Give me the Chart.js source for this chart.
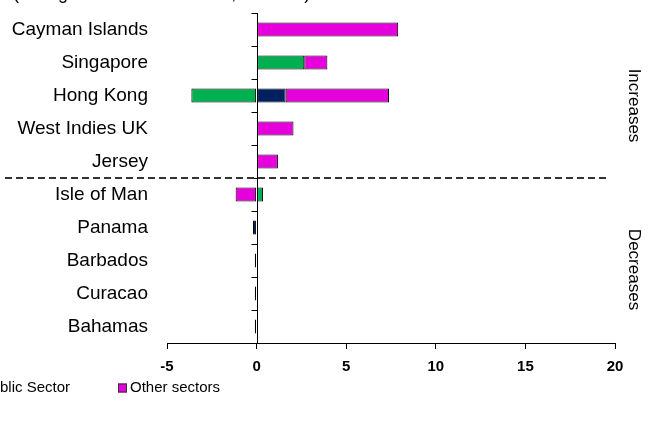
<!DOCTYPE html>
<html><head><meta charset="utf-8">
<script src="https://cdn.jsdelivr.net/npm/chart.js@4"></script>
<style>html,body{margin:0;padding:0;background:#fff;}#wrap{width:655px;height:421px;position:relative;overflow:hidden;}</style>
</head><body><div id="wrap"><canvas id="c" width="655" height="421"></canvas></div>
<script>
const categories = ["Cayman Islands","Singapore","Hong Kong","West Indies UK","Jersey","Isle of Man","Panama","Barbados","Curacao","Bahamas"];
const banks        = [null, 2.66, -3.64, null, null, 0.36, null, null, null, null];
const publicSector = [null, null, 1.62, null, null, null, -0.2, -0.1, -0.1, -0.1];
const otherSectors = [7.9, 1.29, 5.77, 2.06, 1.19, -1.17, null, null, null, null];
const xTicks = [-5, 0, 5, 10, 15, 20];
const seriesNames = ["Banks", "Public Sector", "Other sectors"];
const seriesColors = ["#00B050", "#002060", "#E600DC"];
const groupLabels = ["Increases", "Decreases"];
const titleText = "(change in the total amount, USD bn)";

const FONT = "'Liberation Sans', Arial, sans-serif";

const overlay = {
  id: 'overlay',
  afterDatasetsDraw(chart) {
    const ctx = chart.ctx, xs = chart.scales.x, ys = chart.scales.y, ca = chart.chartArea;
    ctx.save();
    // zero axis line
    const x0 = Math.round(xs.getPixelForValue(0)) + 0.5;
    ctx.strokeStyle = '#000'; ctx.lineWidth = 1;
    ctx.beginPath(); ctx.moveTo(x0, ca.top); ctx.lineTo(x0, ca.bottom); ctx.stroke();
    // category boundary ticks
    for (let i = 0; i <= categories.length; i++) {
      const y = Math.round(ys.getPixelForValue(i - 0.5)) + 0.5;
      ctx.beginPath(); ctx.moveTo(x0 - 6, y); ctx.lineTo(x0, y); ctx.stroke();
    }
    // dashed divider between increases and decreases
    const yd = Math.round(ys.getPixelForValue(4.5));
    ctx.strokeStyle = '#333'; ctx.lineWidth = 2; ctx.setLineDash([7, 4]);
    ctx.beginPath(); ctx.moveTo(5, yd); ctx.lineTo(ca.right - 5, yd); ctx.stroke();
    ctx.setLineDash([]);
    // group labels (rotated)
    ctx.fillStyle = '#000'; ctx.font = "17px " + FONT;
    ctx.textAlign = 'center'; ctx.textBaseline = 'middle';
    const centers = [(ca.top + yd) / 2 + 10, (yd + ca.bottom) / 2 + 9];
    groupLabels.forEach((t, i) => {
      ctx.save(); ctx.translate(ca.right + 19, centers[i]); ctx.rotate(Math.PI / 2);
      ctx.fillText(t, 0, 0); ctx.restore();
    });
    // title (mostly cropped at top)
    ctx.textAlign = 'left'; ctx.textBaseline = 'alphabetic'; ctx.font = "18px " + FONT;
    ctx.fillText(titleText, 13, -1);
    // legend (left part cropped)
    ctx.font = "15px " + FONT; ctx.textBaseline = 'middle';
    const anchor = 118, ly = 388, box = 9, gapText = 3, gapItem = 48;
    const widths = seriesNames.map(n => ctx.measureText(n).width);
    let xs_ = [];
    let x = anchor;
    xs_[seriesNames.length - 1] = x;
    for (let i = seriesNames.length - 2; i >= 0; i--) {
      x = x - gapItem - widths[i] - gapText - box;
      xs_[i] = x;
    }
    seriesNames.forEach((n, i) => {
      const bx = xs_[i];
      ctx.fillStyle = seriesColors[i];
      ctx.fillRect(bx, ly - box / 2, box, box);
      ctx.strokeStyle = '#333'; ctx.lineWidth = 1;
      ctx.strokeRect(bx + 0.5, ly - box / 2 + 0.5, box - 1, box - 1);
      ctx.fillStyle = '#000';
      ctx.fillText(n, bx + box + gapText, ly);
    });
    ctx.restore();
  }
};

new Chart(document.getElementById('c'), {
  type: 'bar',
  data: {
    labels: categories,
    datasets: [
      { label: seriesNames[0], data: banks, backgroundColor: seriesColors[0] },
      { label: seriesNames[1], data: publicSector, backgroundColor: seriesColors[1] },
      { label: seriesNames[2], data: otherSectors, backgroundColor: seriesColors[2] }
    ]
  },
  options: {
    indexAxis: 'y',
    responsive: false,
    animation: false,
    layout: { padding: { left: 0, right: 40, top: 13, bottom: 0 } },
    plugins: { legend: { display: false }, tooltip: { enabled: false }, title: { display: false } },
    datasets: { bar: { barPercentage: 0.42, categoryPercentage: 1, borderColor: '#000', borderWidth: 1, borderSkipped: false } },
    scales: {
      x: {
        type: 'linear', stacked: true, min: xTicks[0], max: xTicks[xTicks.length - 1],
        afterBuildTicks: s => { s.ticks = xTicks.map(v => ({ value: v })); },
        grid: { drawOnChartArea: false, drawTicks: true, tickLength: 6, color: '#000', lineWidth: 1 },
        border: { display: true, color: '#000', width: 1 },
        ticks: { font: { family: FONT, size: 15, weight: 'bold' }, color: '#000', padding: 9, maxRotation: 0 },
        afterFit: s => { s.height = 78; s.paddingLeft = 0; s.paddingRight = 0; }
      },
      y: {
        stacked: true,
        grid: { display: false, drawTicks: false },
        border: { display: false },
        ticks: { font: { family: FONT, size: 19 }, color: '#000', padding: 19, autoSkip: false },
        afterFit: s => { s.width = 167; s.paddingTop = 0; s.paddingBottom = 0; }
      }
    }
  },
  plugins: [overlay]
});
</script></body></html>
